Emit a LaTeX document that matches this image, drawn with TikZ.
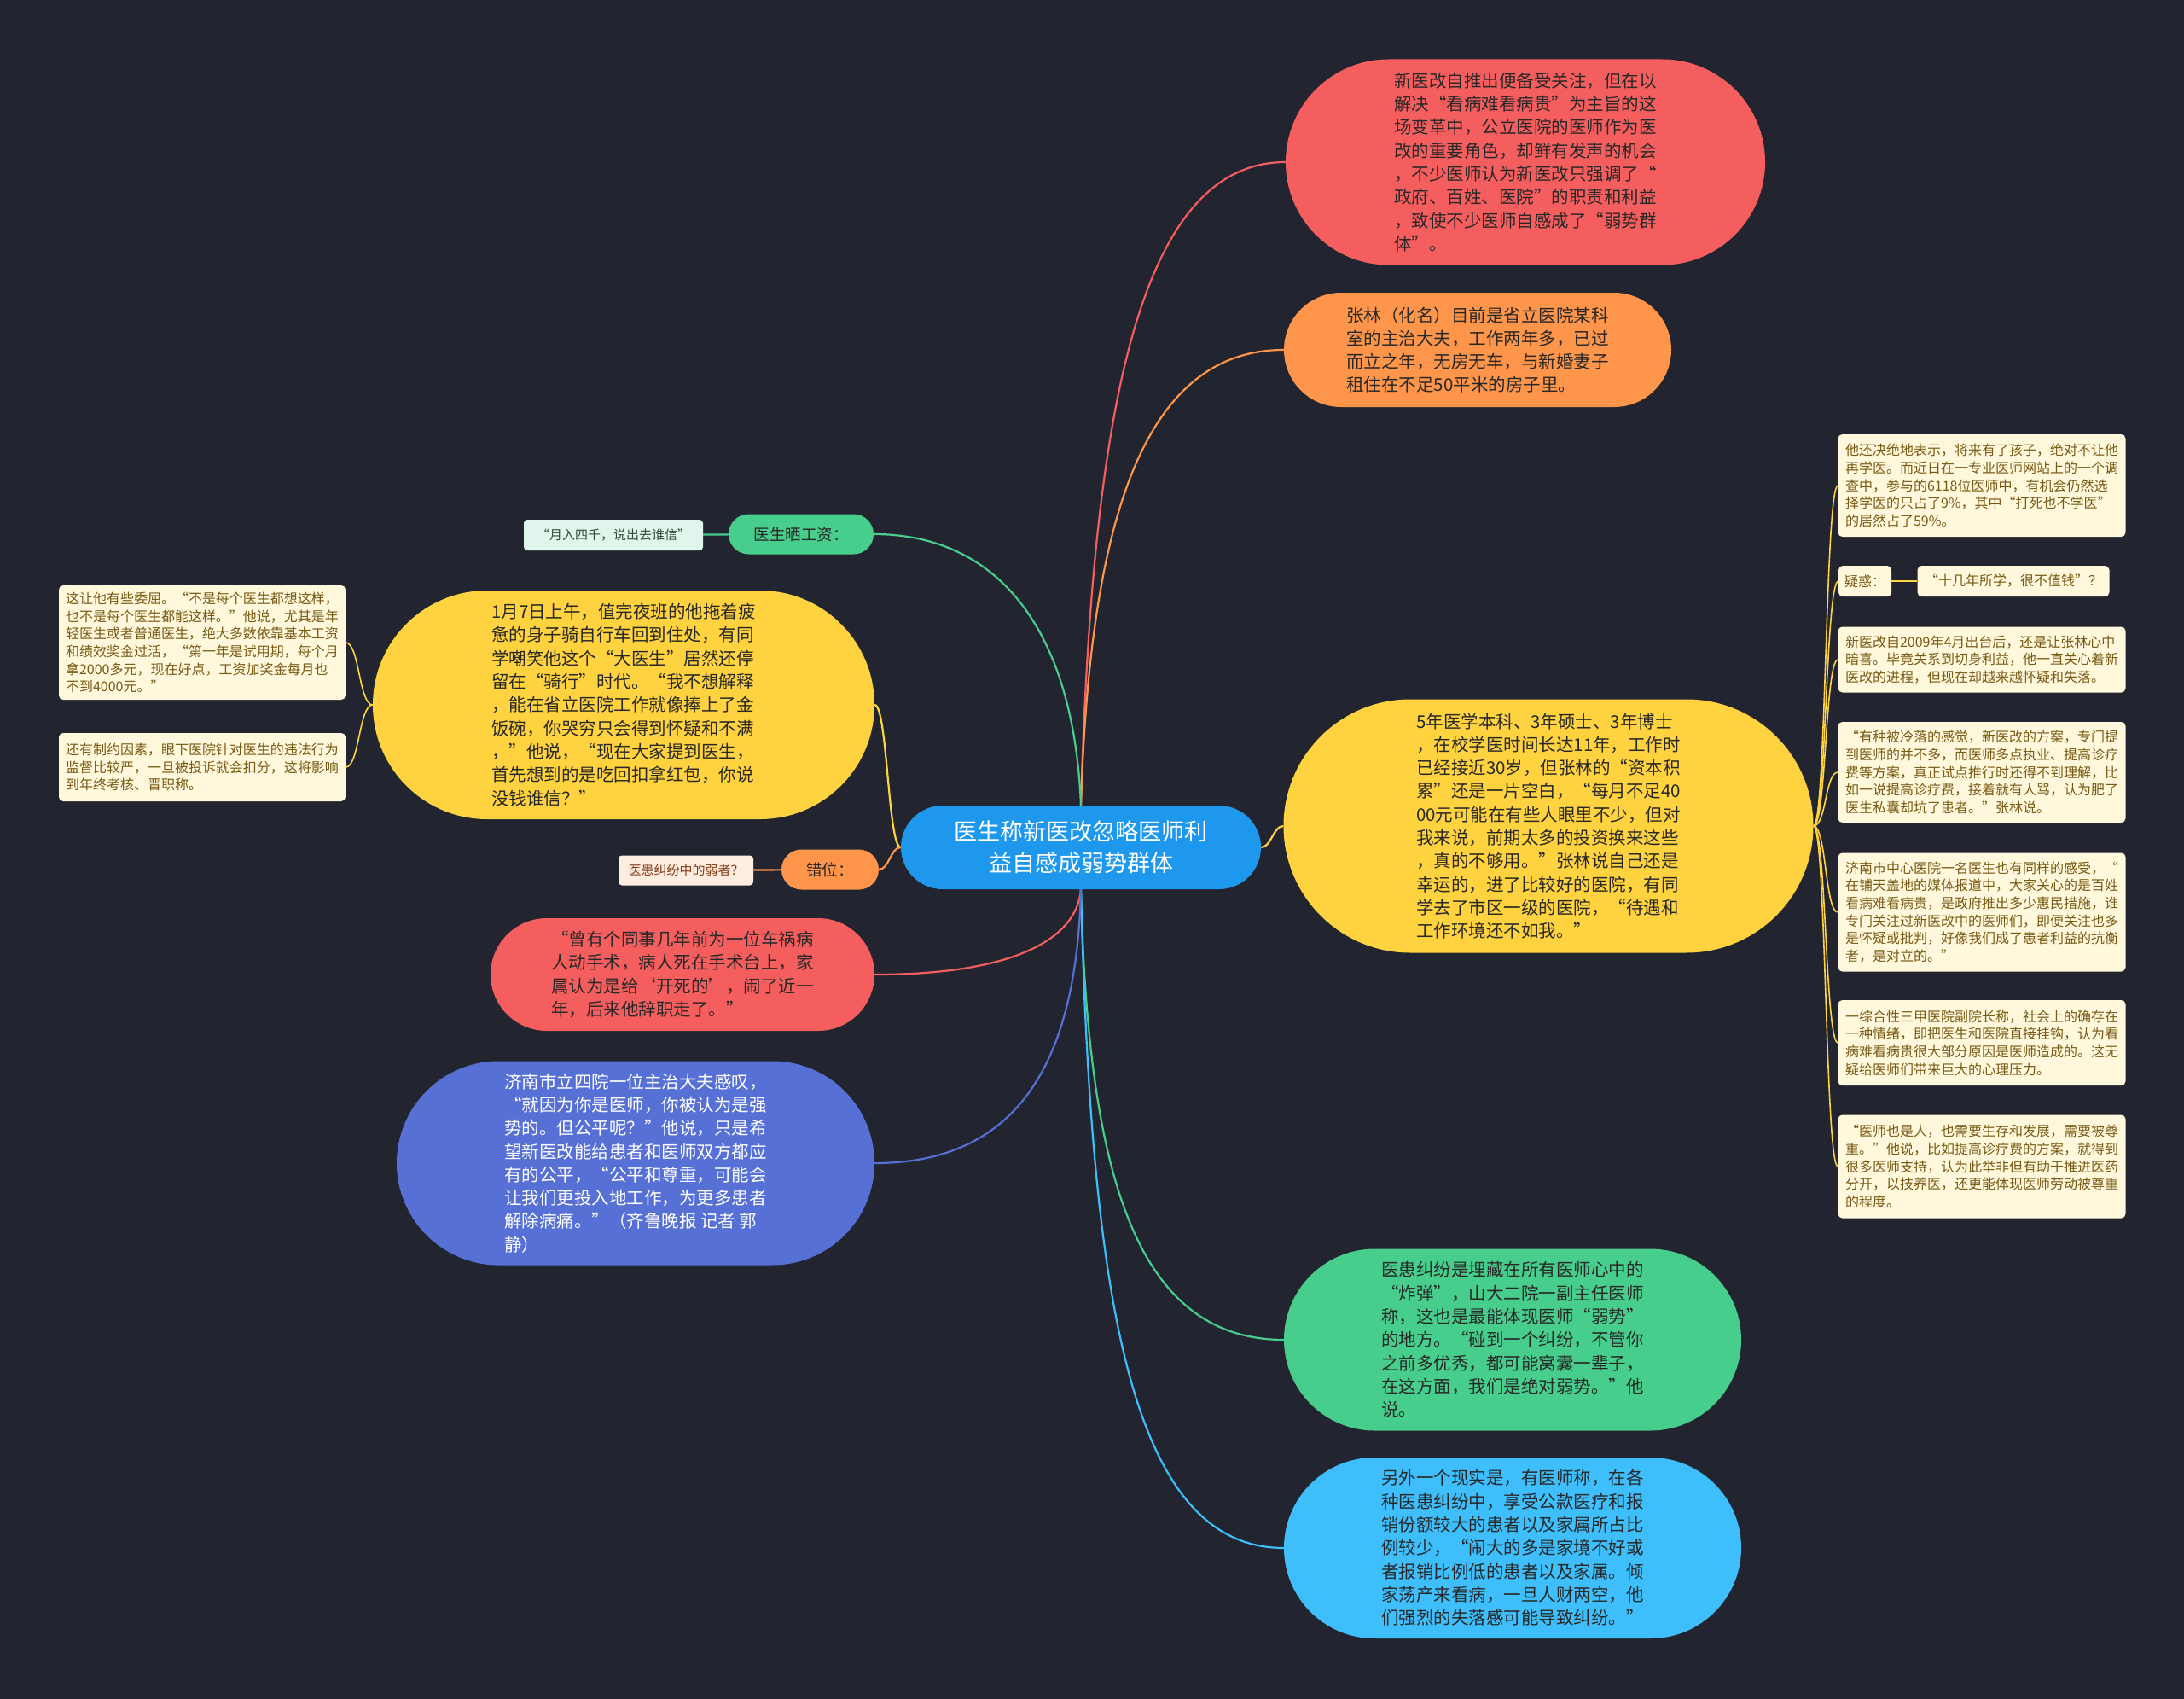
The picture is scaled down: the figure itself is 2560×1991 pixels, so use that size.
\documentclass[tikz,border=0pt]{standalone}
\usepackage{fontspec}
\newfontfamily\cjk{Noto Sans CJK SC}
\usetikzlibrary{shapes.misc}

\definecolor{bgc}{RGB}{34,37,48}
\definecolor{cblue}{RGB}{30,152,236}
\definecolor{cred}{RGB}{244,94,94}
\definecolor{corange}{RGB}{253,150,74}
\definecolor{cyellow}{RGB}{255,211,64}
\definecolor{cgreen}{RGB}{71,205,140}
\definecolor{ccyan}{RGB}{62,190,250}
\definecolor{cindigo}{RGB}{86,112,214}
\definecolor{txtdark}{RGB}{40,40,40}
\definecolor{notefill}{RGB}{255,248,220}
\definecolor{notetext}{RGB}{120,90,20}
\definecolor{mintfill}{RGB}{224,246,236}
\definecolor{minttext}{RGB}{45,75,60}
\definecolor{peachfill}{RGB}{253,236,224}
\definecolor{peachtext}{RGB}{130,60,20}

\begin{document}
\begin{tikzpicture}[x=1pt, y=-1pt]
	\tikzset{topic/.style={rounded rectangle, align=left, inner sep=0pt, text=txtdark, font=\cjk\fontsize{20.5}{27.3}\selectfont}};
	\tikzset{note/.style={rectangle, rounded corners=5pt, fill=notefill, text=notetext, align=left, inner sep=0pt, minimum width=337pt, font=\cjk\fontsize{16}{20.7}\selectfont}};
	\tikzset{tag/.style={rounded rectangle, inner sep=0pt, minimum height=47pt, text=txtdark, font=\cjk\fontsize{18.5}{22}\selectfont}};
	\tikzset{leaf/.style={rectangle, rounded corners=4pt, inner sep=0pt, minimum height=36pt, font=\cjk\fontsize{15}{18}\selectfont}};
	\tikzset{conn/.style={line width=2.2pt}};
	\tikzset{twig/.style={line width=1.6pt, cyellow}};

	\fill[bgc] (0,0) rectangle (2560,1991);
	\useasboundingbox (0,0) rectangle (2560,1991);

	\node[rounded rectangle, fill=cblue, text=white, align=center, inner sep=0pt, minimum width=422pt, minimum height=98pt, font=\cjk\fontsize{27}{37}\selectfont] (root) at (1267, 993) {医生称新医改忽略医师利\\益自感成弱势群体};

	% right side
	\node[topic, fill=cred, minimum width=562pt, minimum height=241pt] (r1) at (1788, 190) {新医改自推出便备受关注，但在以\\解决“看病难看病贵”为主旨的这\\场变革中，公立医院的医师作为医\\改的重要角色，却鲜有发声的机会\\，不少医师认为新医改只强调了“\\政府、百姓、医院”的职责和利益\\，致使不少医师自感成了“弱势群\\体”。};
	\node[topic, fill=corange, minimum width=454pt, minimum height=134pt] (o1) at (1732, 410) {张林（化名）目前是省立医院某科\\室的主治大夫，工作两年多，已过\\而立之年，无房无车，与新婚妻子\\租住在不足50平米的房子里。};
	\node[topic, fill=cyellow, minimum width=621pt, minimum height=297pt] (y1) at (1815, 968) {5年医学本科、3年硕士、3年博士\\，在校学医时间长达11年，工作时\\已经接近30岁，但张林的“资本积\\累”还是一片空白，“每月不足40\\00元可能在有些人眼里不少，但对\\我来说，前期太多的投资换来这些\\，真的不够用。”张林说自己还是\\幸运的，进了比较好的医院，有同\\学去了市区一级的医院，“待遇和\\工作环境还不如我。”};
	\node[topic, fill=cgreen, minimum width=536pt, minimum height=213pt] (g1) at (1773, 1570) {医患纠纷是埋藏在所有医师心中的\\“炸弹”，山大二院一副主任医师\\称，这也是最能体现医师“弱势”\\的地方。“碰到一个纠纷，不管你\\之前多优秀，都可能窝囊一辈子，\\在这方面，我们是绝对弱势。”他\\说。};
	\node[topic, fill=ccyan, minimum width=536pt, minimum height=212pt] (c1) at (1773, 1814) {另外一个现实是，有医师称，在各\\种医患纠纷中，享受公款医疗和报\\销份额较大的患者以及家属所占比\\例较少，“闹大的多是家境不好或\\者报销比例低的患者以及家属。倾\\家荡产来看病，一旦人财两空，他\\们强烈的失落感可能导致纠纷。”};

	\node[note, minimum height=120pt] (n1) at (2323, 569) {他还决绝地表示，将来有了孩子，绝对不让他\\再学医。而近日在一专业医师网站上的一个调\\查中，参与的6118位医师中，有机会仍然选\\择学医的只占了9\%，其中“打死也不学医”\\的居然占了59\%。};
	\node[note, minimum width=62pt, minimum height=36pt] (n2) at (2186, 681) {疑惑：};
	\node[note, minimum width=225pt, minimum height=36pt] (n2a) at (2360, 681) {“十几年所学，很不值钱”？};
	\node[note, minimum height=77pt] (n3) at (2323, 773) {新医改自2009年4月出台后，还是让张林心中\\暗喜。毕竟关系到切身利益，他一直关心着新\\医改的进程，但现在却越来越怀疑和失落。};
	\node[note, minimum height=118pt] (n4) at (2323, 905) {“有种被冷落的感觉，新医改的方案，专门提\\到医师的并不多，而医师多点执业、提高诊疗\\费等方案，真正试点推行时还得不到理解，比\\如一说提高诊疗费，接着就有人骂，认为肥了\\医生私囊却坑了患者。”张林说。};
	\node[note, minimum height=139pt] (n5) at (2323, 1069) {济南市中心医院一名医生也有同样的感受，“\\在铺天盖地的媒体报道中，大家关心的是百姓\\看病难看病贵，是政府推出多少惠民措施，谁\\专门关注过新医改中的医师们，即便关注也多\\是怀疑或批判，好像我们成了患者利益的抗衡\\者，是对立的。”};
	\node[note, minimum height=100pt] (n6) at (2323, 1222) {一综合性三甲医院副院长称，社会上的确存在\\一种情绪，即把医生和医院直接挂钩，认为看\\病难看病贵很大部分原因是医师造成的。这无\\疑给医师们带来巨大的心理压力。};
	\node[note, minimum height=121pt] (n7) at (2323, 1367) {“医师也是人，也需要生存和发展，需要被尊\\重。”他说，比如提高诊疗费的方案，就得到\\很多医师支持，认为此举非但有助于推进医药\\分开，以技养医，还更能体现医师劳动被尊重\\的程度。};

	% left side
	\node[tag, fill=cgreen, minimum width=170pt] (gL) at (939, 626) {医生晒工资：};
	\node[leaf, fill=mintfill, text=minttext, minimum width=210pt] (gleaf) at (719, 627) {“月入四千，说出去谁信”};
	\node[topic, fill=cyellow, minimum width=588pt, minimum height=268pt] (yL) at (731, 826) {1月7日上午，值完夜班的他拖着疲\\惫的身子骑自行车回到住处，有同\\学嘲笑他这个“大医生”居然还停\\留在“骑行”时代。“我不想解释\\，能在省立医院工作就像捧上了金\\饭碗，你哭穷只会得到怀疑和不满\\，”他说，“现在大家提到医生，\\首先想到的是吃回扣拿红包，你说\\没钱谁信？”};
	\node[note, minimum width=336pt, minimum height=134pt] (ln1) at (237, 753) {这让他有些委屈。“不是每个医生都想这样，\\也不是每个医生都能这样。”他说，尤其是年\\轻医生或者普通医生，绝大多数依靠基本工资\\和绩效奖金过活，“第一年是试用期，每个月\\拿2000多元，现在好点，工资加奖金每月也\\不到4000元。”};
	\node[note, minimum width=336pt, minimum height=80pt] (ln2) at (237, 899) {还有制约因素，眼下医院针对医生的违法行为\\监督比较严，一旦被投诉就会扣分，这将影响\\到年终考核、晋职称。};
	\node[tag, fill=corange, minimum width=114pt] (oL) at (973, 1019) {错位：};
	\node[leaf, fill=peachfill, text=peachtext, minimum width=158pt, minimum height=35pt] (oleaf) at (804, 1020) {医患纠纷中的弱者？};
	\node[topic, fill=cred, minimum width=450pt, minimum height=132pt] (rL) at (800, 1142) {“曾有个同事几年前为一位车祸病\\人动手术，病人死在手术台上，家\\属认为是给‘开死的’，闹了近一\\年，后来他辞职走了。”};
	\node[topic, fill=cindigo, text=white, minimum width=560pt, minimum height=239pt] (bL) at (745, 1363) {济南市立四院一位主治大夫感叹，\\“就因为你是医师，你被认为是强\\势的。但公平呢？”他说，只是希\\望新医改能给患者和医师双方都应\\有的公平，“公平和尊重，可能会\\让我们更投入地工作，为更多患者\\解除病痛。”（齐鲁晚报 记者 郭\\静）};

	% branches
	\draw[conn, cred] (root.north) .. controls +(13,-444) and +(-177,0) .. (r1.west);
	\draw[conn, corange] (root.north) .. controls +(10,-320) and +(-170,0) .. (o1.west);
	\draw[conn, cyellow] (root.east) .. controls +(12,0) and +(-12,0) .. (y1.west);
	\draw[conn, cgreen] (root.south) .. controls +(8,330) and +(-175,0) .. (g1.west);
	\draw[conn, ccyan] (root.south) .. controls +(12,480) and +(-180,0) .. (c1.west);

	\draw[conn, cgreen] (root.north) .. controls +(-8,-200) and +(150,0) .. (gL.east);
	\draw[conn, cyellow] (root.west) .. controls +(-15,0) and +(15,0) .. (yL.east);
	\draw[conn, corange] (root.west) .. controls +(-12,0) and +(12,0) .. (oL.east);
	\draw[conn, cred] (root.south) .. controls +(-5,60) and +(160,0) .. (rL.east);
	\draw[conn, cindigo] (root.south) .. controls +(-5,200) and +(170,0) .. (bL.east);

	\draw[conn, cgreen] (gL) -- (gleaf);
	\draw[conn, corange] (oL) -- (oleaf);

	% notes
	\foreach \n in {n1, n2, n3, n4, n5, n6, n7}
		\draw[twig] (y1.east) .. controls +(15,0) and +(-15,0) .. (\n.west);
	\draw[twig, line width=2.5pt] (n2) -- (n2a);
	\draw[twig] (yL.west) .. controls +(-16,0) and +(16,0) .. (ln1.east);
	\draw[twig] (yL.west) .. controls +(-16,0) and +(16,0) .. (ln2.east);

\end{tikzpicture}
\end{document}
